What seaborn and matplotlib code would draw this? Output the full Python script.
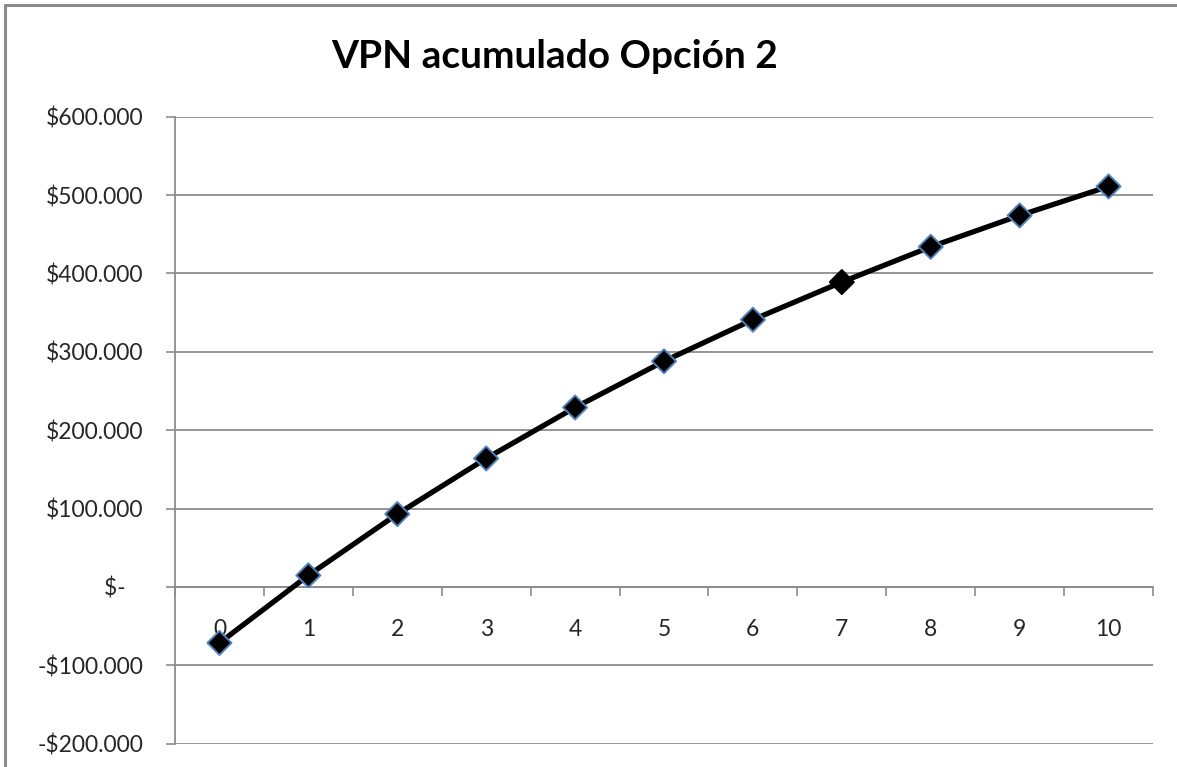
import matplotlib
matplotlib.use("Agg")
import matplotlib.pyplot as plt
from matplotlib.lines import Line2D
import seaborn as sns
import pandas as pd

# Cumulative NPV per year
periods = [0, 1, 2, 3, 4, 5, 6, 7, 8, 9, 10]
vpn_acumulado = [-71400, 14800, 93000, 164000, 229000, 288000, 341000, 389000, 434000, 474000, 511000]
y_ticks = [-200000, -100000, 0, 100000, 200000, 300000, 400000, 500000, 600000]
title_text = "VPN acumulado Opción 2"

df = pd.DataFrame({"periodo": periods, "vpn": vpn_acumulado})

sns.set_theme(style="white")
plt.rcParams["font.family"] = ["Lato", "DejaVu Sans"]

GRID = "#8c8c8c"

fig = plt.figure(figsize=(11.77, 7.67), dpi=100)
ax = fig.add_axes([175 / 1177, 1 - 743.7 / 767, (1153 - 175) / 1177, (743.7 - 116.7) / 767])

# Line and diamond markers
sns.lineplot(data=df, x="periodo", y="vpn", ax=ax, color="black", linewidth=3.8,
             zorder=4, clip_on=False)
edge_colors = ["#4f81bd"] * len(periods)
edge_colors[7] = "black"
ax.scatter(df["periodo"], df["vpn"], marker="D", s=150, c="black",
           edgecolors=edge_colors, linewidths=1.4, zorder=5, clip_on=False)

ax.set_xlim(-0.5, 10.5)
ax.set_ylim(-200000, 600000)


def money(v):
    if v == 0:
        return "$-   "
    s = f"${abs(v):,.0f}".replace(",", ".")
    return "-" + s if v < 0 else s


ax.set_yticks(y_ticks)
ax.set_yticklabels([money(v) for v in y_ticks])
ax.yaxis.grid(True, color=GRID, linewidth=1.3)
ax.set_axisbelow(True)

# Category axis crossing at zero with ticks between categories
ax.spines["bottom"].set_position(("data", 0))
ax.set_xticks([i - 0.5 for i in range(len(periods) + 1)])
ax.set_xticklabels([])
ax.set_xticks(periods, minor=True)
ax.set_xticklabels([str(p) for p in periods], minor=True)
ax.tick_params(axis="x", which="major", direction="out", length=6.5, width=1.2,
               color=GRID, bottom=True)
ax.tick_params(axis="x", which="minor", length=0, pad=23, labelsize=16.5)
ax.tick_params(axis="y", direction="out", length=6.5, width=1.2, color=GRID,
               left=True, pad=16.5, labelsize=16.5)

for side in ["top", "right"]:
    ax.spines[side].set_visible(False)
for side in ["left", "bottom"]:
    ax.spines[side].set_color(GRID)
    ax.spines[side].set_linewidth(1.3)
ax.set_xlabel("")
ax.set_ylabel("")

fig.text(555 / 1177, 1 - 56 / 767, title_text, ha="center", va="center",
         fontsize=28, fontweight="bold", color="black")

# Chart area frame
fig.add_artist(Line2D([5 / 1177, 5 / 1177], [0, 1 - 5 / 767], transform=fig.transFigure,
                      color="#8a8a8a", linewidth=2.2))
fig.add_artist(Line2D([5 / 1177, 1], [1 - 5 / 767, 1 - 5 / 767], transform=fig.transFigure,
                      color="#8a8a8a", linewidth=2.2))

fig.savefig("out.png", dpi=100)
